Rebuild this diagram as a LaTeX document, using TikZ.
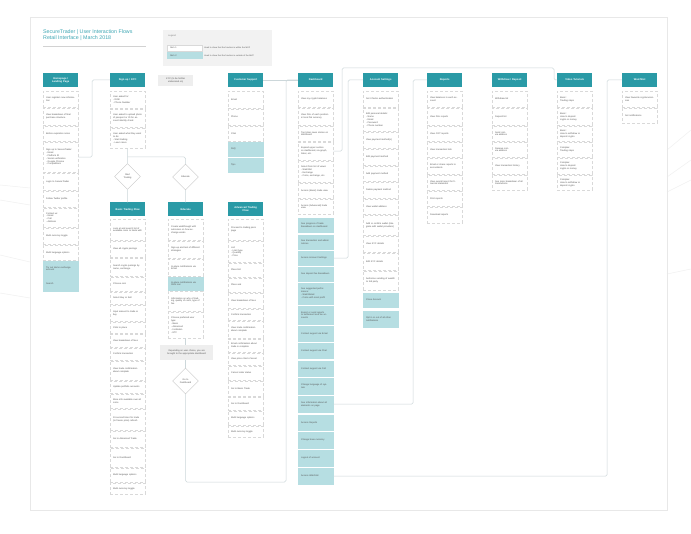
\documentclass[tikz,border=0pt]{standalone}
\usepackage{fontspec}
\setmainfont{Liberation Sans}
\usetikzlibrary{shapes.geometric}

\definecolor{teal1}{HTML}{2A9AA6}
\definecolor{titleteal}{HTML}{3FA7B4}
\definecolor{mvp}{HTML}{B6DEE2}
\definecolor{ink}{HTML}{555555}
\definecolor{wire}{HTML}{CCD7DA}

\tikzset{
  head/.style={fill=teal1, text=white, font=\bfseries\fontsize{2.6}{3.1}\selectfont,
    text width=33pt, align=center, inner xsep=1pt, inner ysep=0pt,
    minimum height=14pt, anchor=west},
  item/.style={densely dashed, line width=0.3pt, text=ink,
    font=\fontsize{2.3}{2.9}\selectfont, text width=29pt, align=left,
    inner xsep=3pt, inner ysep=0.5pt, anchor=north west},
  plainbox/.style={fill=white, draw=gray!30},
  mvpbox/.style={fill=mvp, draw=mvp, solid},
  note/.style={fill=gray!13, text=ink, font=\fontsize{2.3}{2.9}\selectfont,
    align=center, inner xsep=2pt, inner ysep=0.5pt, anchor=north west},
  choice/.style={diamond, draw=gray!45, fill=white, line width=0.4pt,
    minimum width=26pt, minimum height=26pt, inner sep=0pt, text=ink,
    font=\fontsize{2.3}{2.9}\selectfont, align=center},
  link/.style={draw=wire, line width=0.5pt, rounded corners=1.5pt},
  faint/.style={draw=gray!12, line width=0.5pt}
}

\begin{document}
\begin{tikzpicture}[x=1pt,y=-1pt]
  \useasboundingbox (0,0) rectangle (691,534);
  \fill[white] (0,0) rectangle (691,534);

  % background lines
  \draw[faint] (0,185) -- (30,188);
  \draw[faint] (0,200) -- (30,205);
  \draw[faint] (0,255) -- (30,262);
  \draw[faint] (0,293) -- (30,298);
  \draw[faint] (667,150) -- (691,130);
  \draw[faint] (667,177) -- (691,160);
  \draw[faint] (667,192) -- (691,180);
  \draw[faint] (667,274) -- (691,269);

  % page
  \draw[gray!18, line width=1pt] (30,18) rectangle (667,510);

  \node[anchor=north west, text=titleteal, font=\fontsize{5.3}{6.6}\selectfont,
    align=left, inner sep=0pt] (title) at (43,29)
    {SecureTrader | User Interaction Flows\\Retail Interface | March 2018};
  \draw[gray!35, line width=0.4pt] (43,46) -- (146,46);

  % legend
  \node[fill=gray!10, minimum width=109pt, minimum height=36pt, inner sep=0pt,
    anchor=north west] (legend) at (163,30) {};
  \node[anchor=west, text=gray, font=\fontsize{2.3}{2.9}\selectfont, inner sep=0pt]
    (legendtitle) at (168,36) {Legend};
  \node[item, plainbox, solid, minimum height=6pt] (key1) at (167,45) {Item 1};
  \node[item, mvpbox, minimum height=6pt] (key2) at (167,52.5) {Item 2};
  \node[anchor=west, text=ink, font=\fontsize{2.1}{2.6}\selectfont, text width=64pt,
    align=left, inner sep=0pt] (keytext1) at (204,48)
    {Used to show that the function is within the MVP};
  \node[anchor=west, text=ink, font=\fontsize{2.1}{2.6}\selectfont, text width=64pt,
    align=left, inner sep=0pt] (keytext2) at (204,55.5)
    {Used to show that the function is outside of the MVP};

  % column heads
  \node[head] (home) at (43,80) {Homepage /\\Landing Page};
  \node[head] (signup) at (110,80) {Sign up / KYC};
  \node[note, text width=31pt, minimum height=11pt] (kycnote) at (158,75)
    {KYC (to be further\\elaborated on)};
  \node[head] (cs) at (228,80) {Customer Support};
  \node[head] (board) at (298,80) {Dashboard};
  \node[head] (acc) at (363,80) {Account Settings};
  \node[head] (rep) at (427,80) {Reports};
  \node[head] (wd) at (492,80) {Withdraw / Deposit};
  \node[head] (vid) at (557,80) {Video Tutorials};
  \node[head] (watch) at (622,80) {Watchlist};
  \node[head] (basic) at (110,209.5) {Basic Trading Flow};
  \node[head] (edu) at (168,209.5) {Educate};
  \node[head] (adv) at (228,209.5) {Advanced Trading\\Flow};

  % homepage
  \foreach \y/\h/\s/\t [count=\i] in {
    91/16/plainbox/{User registers new information},
    108/17/plainbox/{View breakdown of final purchase structure},
    126/15/plainbox/{Before expiration notes},
    142/30/plainbox/{Sign up to SecureTrader:\\- Email\\- Platform ID\\- Social verification\\- Google Chrome\\- Competitions},
    173/17/plainbox/{Login to SecureTrader},
    191/16/plainbox/{Follow Twitter profile},
    208/19/plainbox/{Contact us:\\- Email\\- Call\\- Address},
    228/16/plainbox/{Multi currency toggle},
    245/15/plainbox/{Multi language options},
    261/15/mvpbox/{Try out demo exchange account},
    277/14/mvpbox/{Search}}
    \node[item, \s, minimum height=\h] (home\i) at (43,\y) {\t};

  % sign up
  \foreach \y/\h/\s/\t [count=\i] in {
    91/17/plainbox/{User asked for:\\- DOB\\- Phone Number},
    109/18/plainbox/{User asked to upload photo of passport or ID for account identity check},
    128/20/plainbox/{User asked what they want to do:\\- Start trading\\- Learn more}}
    \node[item, \s, minimum height=\h] (signup\i) at (110,\y) {\t};

  % customer support
  \foreach \y/\h/\s/\t [count=\i] in {
    91/17/plainbox/{Email},
    109/16/plainbox/{Phone},
    126/15/plainbox/{Chat},
    142/14/mvpbox/{FAQ},
    158/14/mvpbox/{Tips}}
    \node[item, \s, minimum height=\h] (cs\i) at (228,\y) {\t};

  % dashboard
  \foreach \y/\h/\s/\t [count=\i] in {
    91/16/plainbox/{View my crypto balances},
    108/17/plainbox/{View P\&L of each position in local fiat currency},
    126/15/plainbox/{Top ticker news stories on dashboard},
    142/18/plainbox/{Expand upper section on dashboard, via graph, ticker, etc.},
    161/21/plainbox/{Select from list of views:\\- Watchlist\\- Exchange\\- Coins, exchange, etc.},
    183/15/plainbox/{Access (Basic) trade view},
    199/15/plainbox/{Access (Advanced) trade view},
    218/14/mvpbox/{See progress of trade breakdown on dashboard},
    235/14/mvpbox/{See transaction and admin notices},
    251/14/mvpbox/{Access Account Settings},
    267/14/mvpbox/{See deposit fee breakdown},
    283/21/mvpbox/{See suggested performance:\\- Watchlisted\\- Coins with most profit},
    306/18/mvpbox/{Export or send reports to settlement and tax accounts},
    326/15/mvpbox/{Contact support via Email},
    343/15/mvpbox/{Contact support via Chat},
    361/15/mvpbox/{Contact support via Call},
    378/16/mvpbox/{Change language of system},
    396/16/mvpbox/{See information about all elements on page},
    415/15/mvpbox/{Access Reports},
    432/16/mvpbox/{Change base currency},
    450/16/mvpbox/{Logout of account},
    468/16/mvpbox/{Access Watchlist}}
    \node[item, \s, minimum height=\h] (board\i) at (298,\y) {\t};

  % account settings
  \foreach \y/\h/\s/\t [count=\i] in {
    91/16/plainbox/{Set 2-factor authentication},
    108/23/plainbox/{Edit personal details:\\- Name\\- Email\\- Password\\- Phone number},
    132/16/plainbox/{View payment method(s)},
    149/16/plainbox/{Edit payment method},
    166/15/plainbox/{Add payment method},
    182/16/plainbox/{Delete payment method},
    199/15/plainbox/{View wallet address},
    215/20/plainbox/{Add or confirm wallet (integrate with wallet providers)},
    236/16/plainbox/{View KYC details},
    253/17/plainbox/{Edit KYC details},
    271/19/plainbox/{Authorise sending of wealth to 3rd party},
    293/14/mvpbox/{Close Account},
    311/16/mvpbox/{Opt in or out of all other notifications}}
    \node[item, \s, minimum height=\h] (acc\i) at (363,\y) {\t};

  % reports
  \foreach \y/\h/\s/\t [count=\i] in {
    91/16/plainbox/{View balances in each account},
    108/17/plainbox/{View P\&L reports},
    126/15/plainbox/{View CGT reports},
    142/15/plainbox/{View transaction lists},
    158/16/plainbox/{Email or share reports to accountants},
    175/15/plainbox/{View overall report for financial statement},
    191/15/plainbox/{Print reports},
    207/16/plainbox/{Download reports}}
    \node[item, \s, minimum height=\h] (rep\i) at (427,\y) {\t};

  % withdraw / deposit
  \foreach \y/\h/\s/\t [count=\i] in {
    91/16/plainbox/{Withdraw list},
    108/17/plainbox/{Deposit list},
    126/15/plainbox/{Send coin\\via address},
    142/15/plainbox/{Receive coin\\via address},
    158/16/plainbox/{View transaction history},
    175/15/plainbox/{See price breakdown of all transactions}}
    \node[item, \s, minimum height=\h] (wd\i) at (492,\y) {\t};

  % video tutorials
  \foreach \y/\h/\s/\t [count=\i] in {
    91/16/plainbox/{Basic:\\Trading steps},
    108/17/plainbox/{Basic:\\How to deposit\\crypto or money},
    126/15/plainbox/{Basic:\\How to withdraw or\\deposit crypto},
    142/15/plainbox/{Complex:\\Trading steps},
    158/16/plainbox/{Complex:\\How to deposit\\crypto or money},
    175/15/plainbox/{Complex:\\How to withdraw or\\deposit crypto}}
    \node[item, \s, minimum height=\h] (vid\i) at (557,\y) {\t};

  % watchlist
  \foreach \y/\h/\s/\t [count=\i] in {
    91/16/plainbox/{View favourite cryptocurrencies},
    108/15/plainbox/{Set notifications}}
    \node[item, \s, minimum height=\h] (watch\i) at (622,\y) {\t};

  % basic trading flow
  \foreach \y/\h/\s/\t [count=\i] in {
    219/21/plainbox/{Look at and search list of available coins to trade with},
    241/16/plainbox/{View all crypto pairings},
    258/18/plainbox/{Search crypto pairings by name, exchange},
    277/14/plainbox/{Choose coin},
    292/12/plainbox/{Select Buy or Sell},
    305/16/plainbox/{Input amount to trade or buy},
    322/11/plainbox/{Click to place},
    334/13/plainbox/{View breakdown of fees},
    348/12/plainbox/{Confirm transaction},
    361/19/plainbox/{View trade confirmation about complete},
    381/12/plainbox/{Update portfolio accounts},
    394/14/plainbox/{More info available over all coins},
    409/21/plainbox/{10-second timer for trade (to freeze price) refresh},
    431/16/plainbox/{Go to Advanced Trade},
    448/19/plainbox/{Go to Dashboard},
    468/14/plainbox/{Multi language options},
    483/11/plainbox/{Multi currency toggle}}
    \node[item, \s, minimum height=\h] (basic\i) at (110,\y) {\t};

  % educate
  \foreach \y/\h/\s/\t [count=\i] in {
    219/21/plainbox/{Create walkthrough with outcomes on how exchange works},
    241/17/plainbox/{Sign-up and test of different strategies},
    259/17/plainbox/{In-place notifications via Email},
    277/13/mvpbox/{In-place notifications via SMS text},
    291/20/plainbox/{Information on why of trading, quality of coins, type of fee},
    312/26/plainbox/{Choose preferred user type:\\- Basic\\- Advanced\\- Institution\\- ETF}}
    \node[item, \s, minimum height=\h] (edu\i) at (168,\y) {\t};

  % advanced trading flow
  \foreach \y/\h/\s/\t [count=\i] in {
    219/21/plainbox/{Proceed to trading pairs page},
    241/21/plainbox/{List:\\- Limit type\\- Quantity\\- Price},
    263/14/plainbox/{Place bid},
    278/14/plainbox/{Place ask},
    293/15/plainbox/{View breakdown of fees},
    309/11/plainbox/{Confirm transaction},
    321/17/plainbox/{View trade confirmation about complete},
    339/13/plainbox/{Email confirmation about trade is complete},
    353/12/plainbox/{View price chart of asset},
    366/14/plainbox/{Cancel order status},
    381/15/plainbox/{Go to Basic Trade},
    397/13/plainbox/{Go to Dashboard},
    411/14/plainbox/{Multi language options},
    426/11/plainbox/{Multi currency toggle}}
    \node[item, \s, minimum height=\h] (adv\i) at (228,\y) {\t};

  % choices
  \node[choice] (start) at (127.5,176.5) {Start\\Trading};
  \node[choice] (learn) at (185.5,177) {Educate};
  \node[note, text width=49pt, minimum height=15pt] (choicenote) at (160,345)
    {Depending on user choice, you are\\brought to the appropriate dashboard};
  \node[choice] (godash) at (185.5,381) {Go to\\Dashboard};

  % connectors
  \coordinate (split) at (127.5,157);
  \draw[link] (home4.east) -| (92,80) -- (signup.west);
  \draw[link] (signup3.south) -- (split) -- (start.north);
  \draw[link] (split) -| (learn.north);
  \draw[link] (start.south) -- (basic.north);
  \draw[link] (learn.south) -- (edu.north);
  \draw[link] (edu6.south) -- (choicenote.north -| edu6.south);
  \draw[link] (choicenote.south -| godash.north) -- (godash.north);
  \draw[link] (godash.south) |- (286,482) |- (board.west);
  \draw[link] (cs.east) -- (board.west);
  \draw[link] (board4.east) -| (342,68) -| (554,80) -- (vid.west);
  \draw[link] (board10.east) -| (348,80) -- (acc.west);
  \draw[link] (board18.east) -| (413,80) -- (rep.west);
  \draw[link] (board22.east) -| (607,80) -- (watch.west);
\end{tikzpicture}
\end{document}
